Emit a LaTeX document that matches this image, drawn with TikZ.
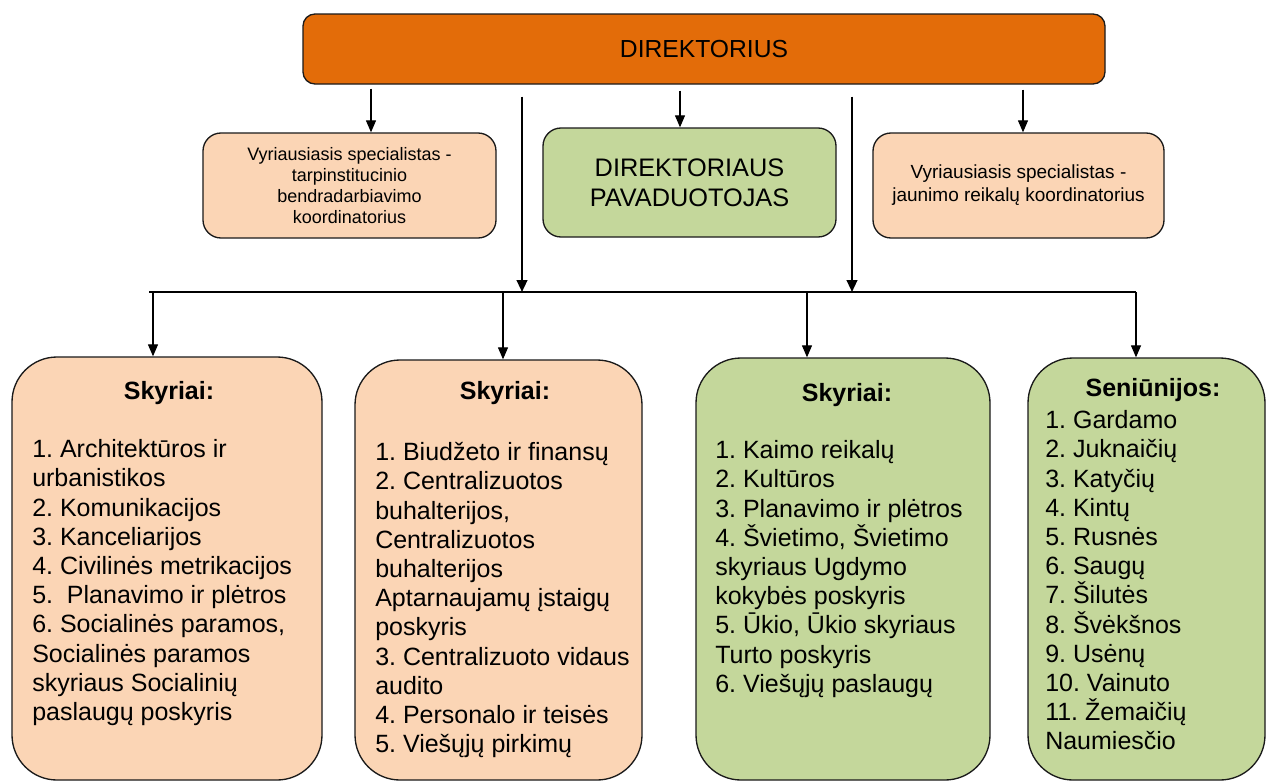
\documentclass[tikz,border=0pt]{standalone}
\usepackage{fontspec}
\setmainfont{Liberation Sans}
\usetikzlibrary{arrows.meta,calc}
\definecolor{dirorange}{HTML}{E36C09}
\definecolor{peach}{HTML}{FBD5B5}
\definecolor{olivefill}{HTML}{C4D79B}
\definecolor{edgecol}{HTML}{1A1A1A}
\frenchspacing
\begin{document}
\begin{tikzpicture}[x=0.75pt,y=-0.75pt,
  box/.style={draw=edgecol,line width=1pt,inner sep=0pt,align=center},
  topbox/.style={box,fill=dirorange,rounded corners=9pt,minimum width=601.5pt,minimum height=52.5pt,font=\fontsize{18.5pt}{22pt}\selectfont},
  smallbox/.style={box,fill=peach,rounded corners=13.5pt,minimum height=78.75pt},
  greenbox/.style={box,fill=olivefill,rounded corners=13.5pt,minimum width=219.75pt,minimum height=81.75pt,font=\fontsize{19pt}{22.5pt}\selectfont},
  bigbox/.style={box,rounded corners=33.75pt},
  arr/.style={line width=0.9pt,-{Triangle[length=9pt,width=7.5pt]}},
  arrthick/.style={line width=1.6pt,-{Triangle[length=9pt,width=8pt]}},
  busline/.style={line width=1pt},
  listtext/.style={anchor=north west,inner sep=0pt,align=left,font=\frenchspacing\fontsize{18.75pt}{21.9pt}\selectfont},
  headtext/.style={inner sep=0pt,font=\bfseries\fontsize{18.75pt}{21.9pt}\selectfont}
]
\useasboundingbox (0,0) rectangle (1267,782);
\fill[white] (0,0) rectangle (1267,782);

% top level
\node[topbox] (dir) at (704,49) {DIREKTORIUS};
\node[smallbox,minimum width=219.75pt,font=\fontsize{13.5pt}{15.75pt}\selectfont] (sa) at (349.5,185.5)
  {Vyriausiasis specialistas -\\tarpinstitucinio\\bendradarbiavimo\\koordinatorius};
\node[greenbox] (dp) at (689.5,182.5) {DIREKTORIAUS\\PAVADUOTOJAS};
\node[smallbox,minimum width=218.25pt,font=\fontsize{14.25pt}{17.25pt}\selectfont] (sb) at (1018.5,185.5)
  {Vyriausiasis specialistas -\\jaunimo reikalų koordinatorius};

% bottom boxes
\node[bigbox,fill=peach,minimum width=232.5pt,minimum height=317.25pt] (b1) at (167,568.5) {};
\node[bigbox,fill=peach,minimum width=215.25pt,minimum height=315pt] (b2) at (498.5,570) {};
\node[bigbox,fill=olivefill,minimum width=220.5pt,minimum height=316.5pt] (b3) at (843,569) {};
\node[bigbox,fill=olivefill,minimum width=177.75pt,minimum height=316.5pt] (b4) at (1146.5,569) {};

% headings
\node[headtext] (h1) at (169,393) {Skyriai:};
\node[headtext] (h2) at (505,393) {Skyriai:};
\node[headtext] (h3) at (847,395) {Skyriai:};
\node[headtext] (h4) at (1153,390) {Seniūnijos:};

% lists
\node[listtext] (l1) at (32,437) {\strut 1. Architektūros ir\\urbanistikos\\2. Komunikacijos\\3. Kanceliarijos\\4. Civilinės metrikacijos\\5.\ \ Planavimo ir plėtros\\6. Socialinės paramos,\\Socialinės paramos\\skyriaus Socialinių\\paslaugų poskyris};
\node[listtext] (l2) at (375,440) {\strut 1. Biudžeto ir finansų\\2. Centralizuotos\\buhalterijos,\\Centralizuotos\\buhalterijos\\Aptarnaujamų įstaigų\\poskyris\\3. Centralizuoto vidaus\\audito\\4. Personalo ir teisės\\5. Viešųjų pirkimų};
\node[listtext] (l3) at (715,438) {\strut 1. Kaimo reikalų\\2. Kultūros\\3. Planavimo ir plėtros\\4. Švietimo, Švietimo\\skyriaus Ugdymo\\kokybės poskyris\\5. Ūkio, Ūkio skyriaus\\Turto poskyris\\6. Viešųjų paslaugų};
\node[listtext] (l4) at (1045,408) {\strut 1. Gardamo\\2. Juknaičių\\3. Katyčių\\4. Kintų\\5. Rusnės\\6. Saugų\\7. Šilutės\\8. Švėkšnos\\9. Usėnų\\10. Vainuto\\11. Žemaičių\\Naumiesčio};

% connectors
\draw[arr] ($(371,0 |- dir.south)+(0,4)$) -- (371,0 |- sa.north);
\draw[arr] ($(680,0 |- dir.south)+(0,6)$) -- (680,0 |- dp.north);
\draw[arr] ($(1023,0 |- dir.south)+(0,5)$) -- (1023,0 |- sb.north);
\coordinate (busL) at (149,292);
\coordinate (busR) at (1136,292);
\draw[busline] (busL) -- (busR);
\draw[arrthick] ($(522,0 |- dir.south)+(0,12)$) -- (522,0 |- busL);
\draw[arrthick] ($(852,0 |- dir.south)+(0,12)$) -- (852,0 |- busL);
\draw[arr] (153,0 |- busL) -- (153,0 |- b1.north);
\draw[arr] (503,0 |- busL) -- (503,0 |- b2.north);
\draw[arr] (807,0 |- busL) -- (807,0 |- b3.north);
\draw[arr] (busR) -- (busR |- b4.north);
\end{tikzpicture}
\end{document}
